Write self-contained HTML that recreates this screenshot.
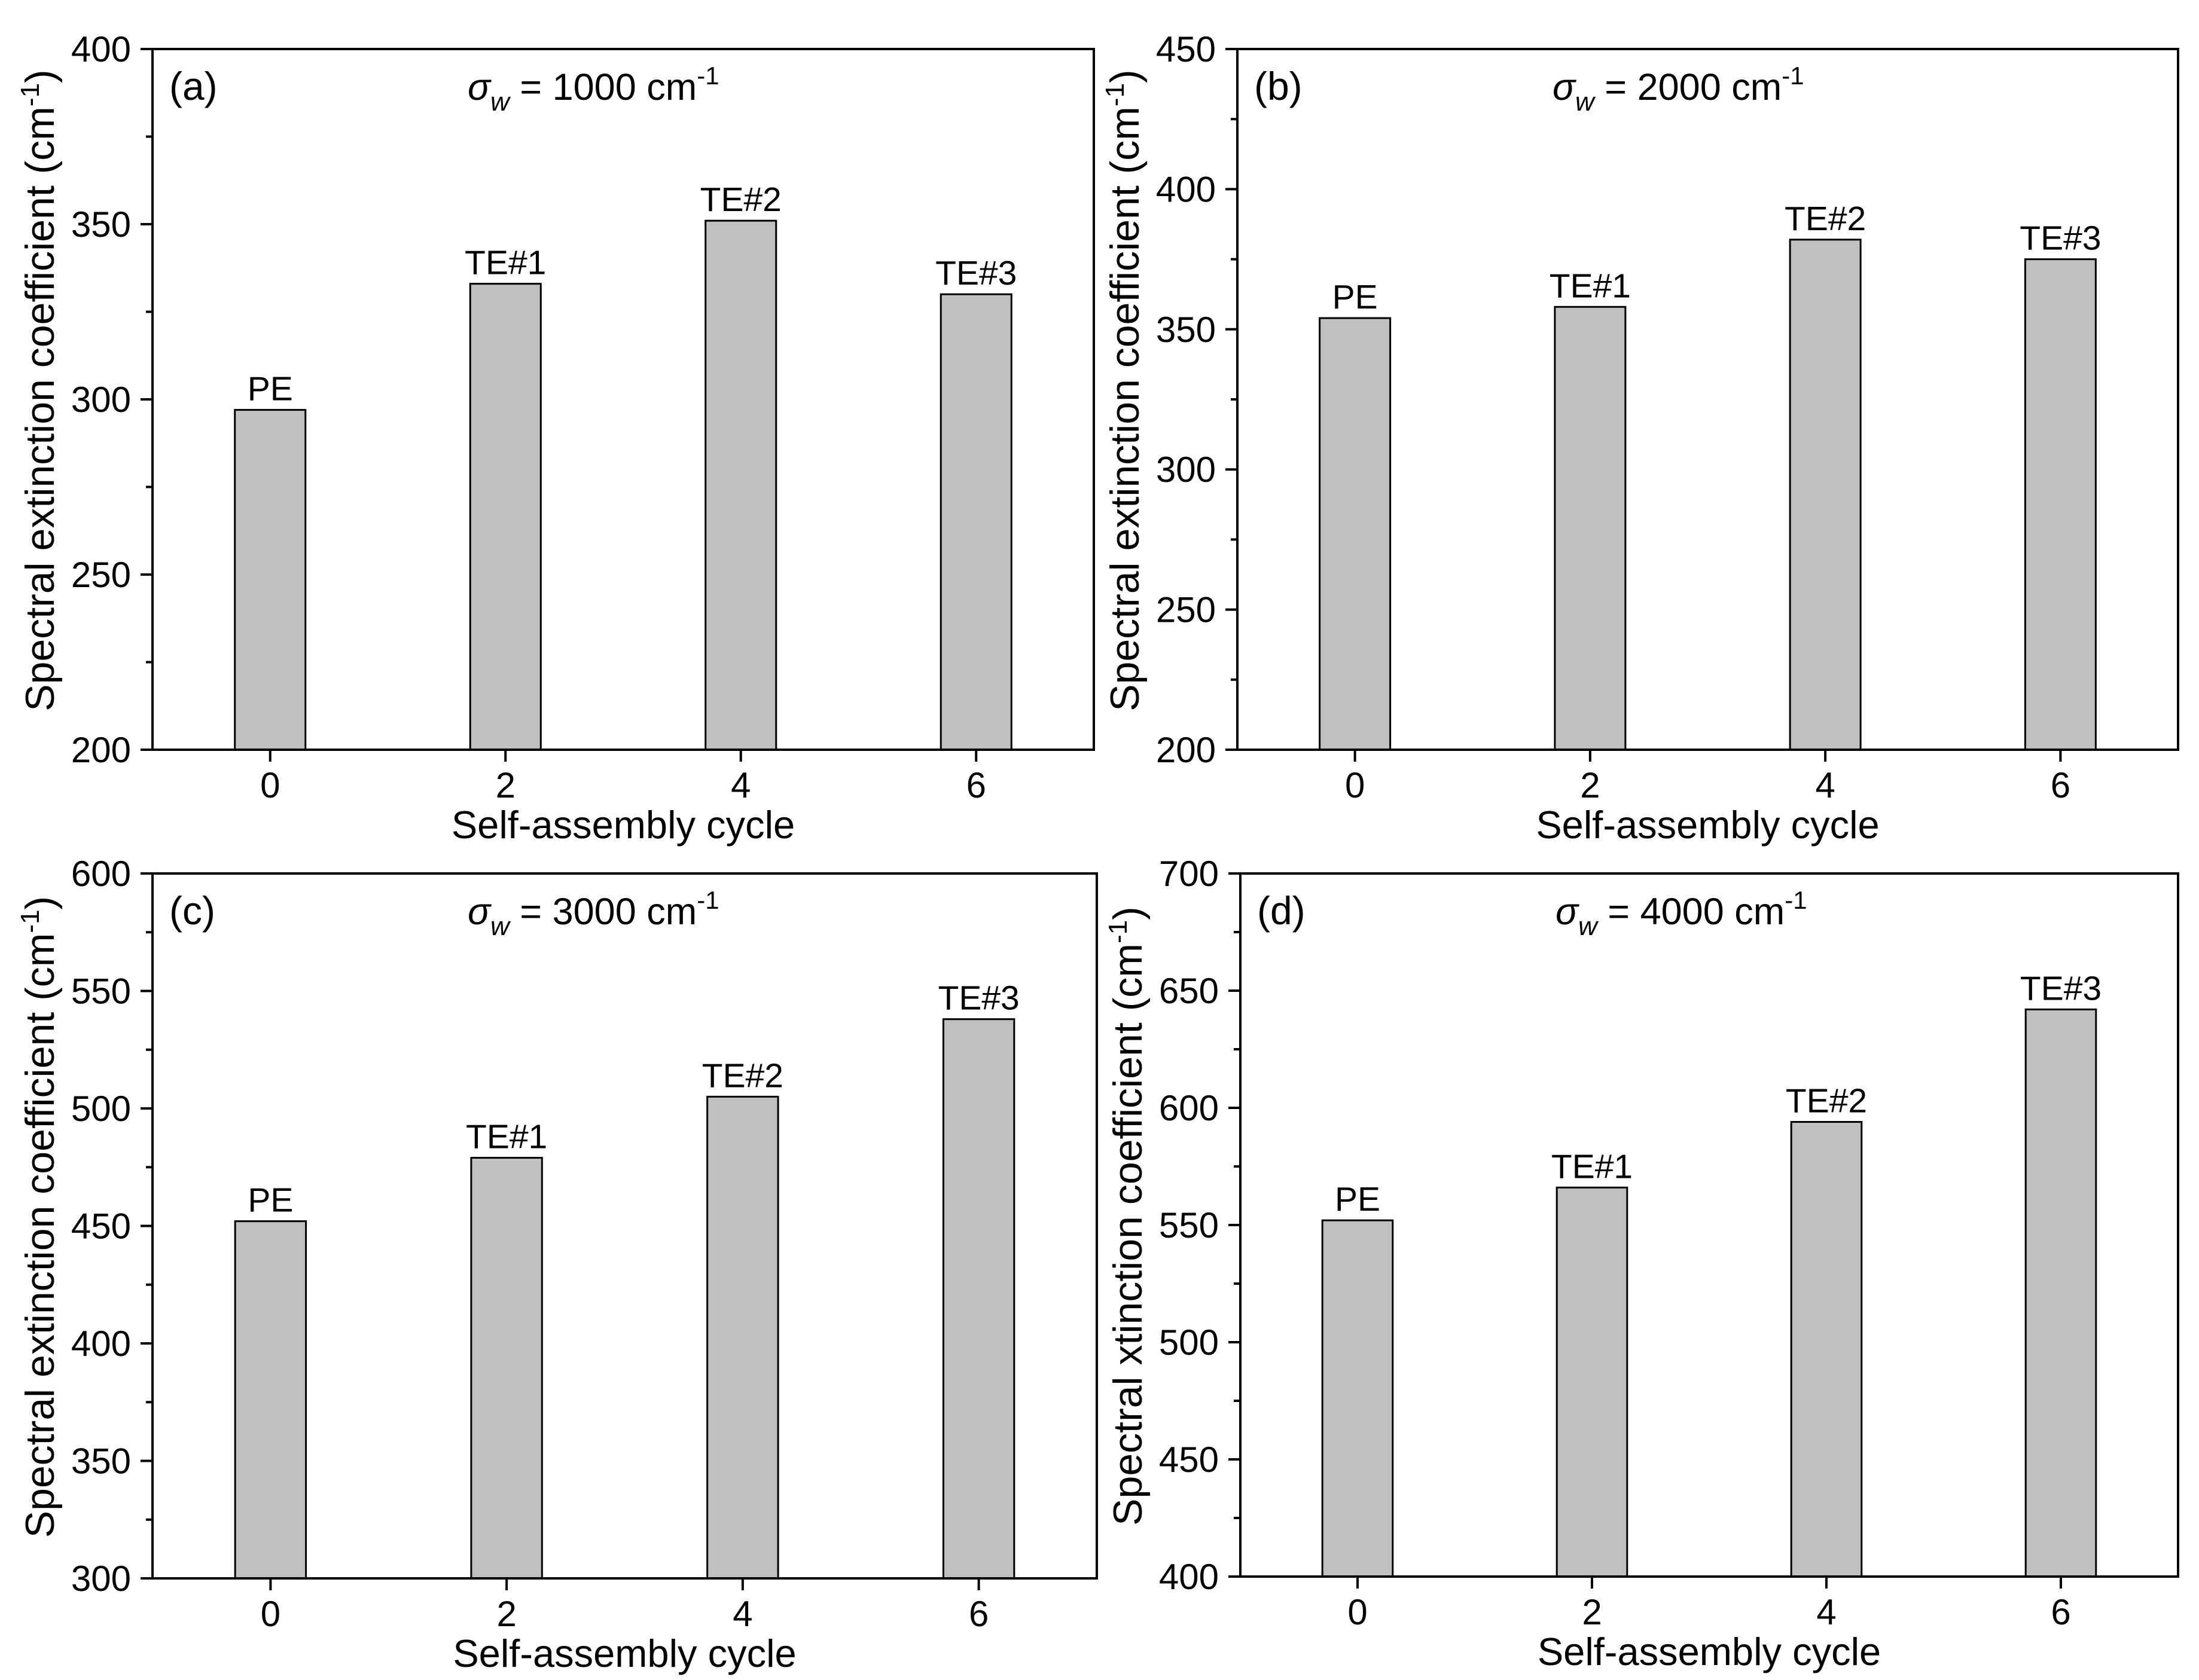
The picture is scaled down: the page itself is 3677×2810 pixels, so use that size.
<!DOCTYPE html>
<html><head><meta charset="utf-8"><style>
html,body{margin:0;padding:0;background:#fff;}
svg{display:block;font-family:"Liberation Sans Narrow","Liberation Sans",sans-serif;}
</style></head><body>
<svg id="fig" width="3677" height="2810" viewBox="0 0 3677 2810" xmlns="http://www.w3.org/2000/svg"></svg>
<script>
const categories = [0, 2, 4, 6];
const barLabels = ["PE", "TE#1", "TE#2", "TE#3"];
const valuesA = [297, 333, 351, 330];
const valuesB = [354, 358, 382, 375];
const valuesC = [452, 479, 505, 538];
const valuesD = [552, 566, 594, 642];
const yTicksA = [200, 250, 300, 350, 400];
const yTicksB = [200, 250, 300, 350, 400, 450];
const yTicksC = [300, 350, 400, 450, 500, 550, 600];
const yTicksD = [400, 450, 500, 550, 600, 650, 700];
const xTicks = [0, 2, 4, 6];
const panelLetters = ["(a)", "(b)", "(c)", "(d)"];
const sigmaValues = ["1000", "2000", "3000", "4000"];
const yTitles = ["Spectral extinction coefficient (cm", "Spectral extinction coefficient (cm", "Spectral extinction coefficient (cm", "Spectral xtinction coefficient (cm"];

const NS = "http://www.w3.org/2000/svg";
const svg = document.getElementById('fig');
function mk(tag, attrs, parent, text) {
  const e = document.createElementNS(NS, tag);
  for (const k in attrs) e.setAttribute(k, attrs[k]);
  if (text !== undefined) e.textContent = text;
  (parent || svg).appendChild(e);
  return e;
}
const panels = [
  {L:255,R:1829,T:82,B:1254,vals:valuesA,ticks:yTicksA},
  {L:2069,R:3642,T:82,B:1254,vals:valuesB,ticks:yTicksB},
  {L:255,R:1834,T:1461,B:2640,vals:valuesC,ticks:yTicksC},
  {L:2074,R:3642,T:1461,B:2637,vals:valuesD,ticks:yTicksD}
];
panels.forEach((p, i) => {
  const g = mk('g', {});
  
  
  const ymin = p.ticks[0], ymax = p.ticks[p.ticks.length - 1];
  const xs = v => p.L + (v + 1) / 8 * (p.R - p.L);
  const ys = v => p.B - (v - ymin) / (ymax - ymin) * (p.B - p.T);
  const bw = 0.6 / 8 * (p.R - p.L);
  p.vals.forEach((v, j) => {
    const b = mk('rect', {x: xs(categories[j]) - bw / 2, y: ys(v), width: bw, height: p.B - ys(v), fill: '#c0c0c0', stroke: '#000', 'stroke-width': 3}, g);
    
    
    const t = mk('text', {x: xs(categories[j]), y: ys(v) - 16, 'text-anchor': 'middle', 'font-size': 57}, g, barLabels[j]);
    
    
  });
  const frame = mk('rect', {x: p.L, y: p.T, width: p.R - p.L, height: p.B - p.T, fill: 'none', stroke: '#000', 'stroke-width': 4}, g);
  
  
  p.ticks.forEach((v, k) => {
    mk('line', {x1: p.L - 20, x2: p.L, y1: ys(v), y2: ys(v), stroke: '#000', 'stroke-width': 4}, g);
    if (k < p.ticks.length - 1) {
      const mv = (v + p.ticks[k + 1]) / 2;
      mk('line', {x1: p.L - 11, x2: p.L, y1: ys(mv), y2: ys(mv), stroke: '#000', 'stroke-width': 4}, g);
    }
    const t = mk('text', {x: p.L - 36, y: ys(v) + 21, 'text-anchor': 'end', 'font-size': 60}, g, String(v));
    
    
  });
  xTicks.forEach(v => {
    mk('line', {x1: xs(v), x2: xs(v), y1: p.B, y2: p.B + 20, stroke: '#000', 'stroke-width': 4}, g);
    const t = mk('text', {x: xs(v), y: p.B + 80, 'text-anchor': 'middle', 'font-size': 60}, g, String(v));
    
    
  });
  const xt = mk('text', {x: (p.L + p.R) / 2, y: p.B + 148, 'text-anchor': 'middle', 'font-size': 65}, g, 'Self-assembly cycle');
  
  
  const cy = (p.T + p.B) / 2 - 15, cx = p.L - 165;
  const yt = mk('text', {x: cx, y: cy, 'text-anchor': 'middle', 'font-size': 68, transform: `rotate(-90 ${cx} ${cy})`}, g);
  
  
  mk('tspan', {}, yt, yTitles[i]);
  mk('tspan', {dy: -25, 'font-size': 44}, yt, '-1');
  mk('tspan', {dy: 25}, yt, ')');
  const pl = mk('text', {x: p.L + 28, y: p.T + 85, 'font-size': 66}, g, panelLetters[i]);
  
  
  const st = mk('text', {x: p.L + 527, y: p.T + 85, 'font-size': 63}, g);
  
  
  mk('tspan', {'font-style': 'italic'}, st, 'σ');
  mk('tspan', {dy: 18, 'font-size': 44, 'font-style': 'italic'}, st, 'w');
  mk('tspan', {dy: -18}, st, ' = ' + sigmaValues[i] + ' cm');
  mk('tspan', {dy: -26, 'font-size': 42}, st, '-1');
});
</script>
</body></html>
